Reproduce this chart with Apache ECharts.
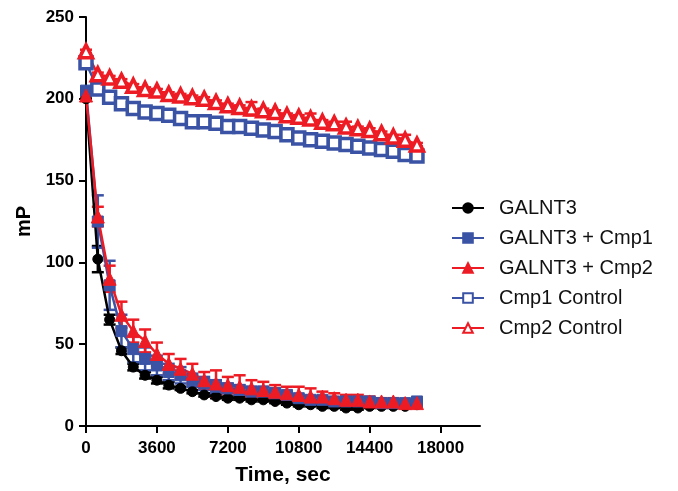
<!DOCTYPE html>
<html>
<head>
<meta charset="utf-8">
<script src="https://cdn.jsdelivr.net/npm/echarts@6/dist/echarts.min.js"></script>
<style>
  html, body { margin: 0; padding: 0; background: #fff; }
  #main { width: 678px; height: 491px; }
</style>
</head>
<body>
<div id="main"></div>
<script>
// time points, sec
var times = [0, 600, 1200, 1800, 2400, 3000, 3600, 4200, 4800, 5400, 6000, 6600, 7200, 7800, 8400,
  9000, 9600, 10200, 10800, 11400, 12000, 12600, 13200, 13800, 14400, 15000, 15600, 16200, 16800];
var xTicks = [0, 3600, 7200, 10800, 14400, 18000];

var galnt3 = [200, 102, 65, 46, 36, 31, 28, 25, 23, 21, 19, 18, 17, 17, 16, 16, 15, 14, 13, 13, 12, 12, 11, 11, 12, 12, 12, 12, 13];
var galnt3Err = [0, 8, 3, 2, 2, 2, 2, 2, 1, 1, 1, 1, 1, 1, 1, 1, 1, 1, 1, 1, 1, 1, 1, 1, 1, 1, 1, 1, 1];

var cmp1 = [205, 125, 86, 58, 47, 41, 37, 33, 31, 28, 26, 24, 23, 22, 21, 21, 20, 19, 17, 16, 16, 15, 15, 15, 15, 14, 14, 14, 15];
var cmp1Err = [0, 16, 15, 10, 8, 7, 6, 5, 5, 4, 4, 4, 3, 3, 3, 3, 3, 2, 2, 2, 2, 2, 2, 2, 2, 2, 2, 2, 1];

var cmp2 = [202, 128, 90, 68, 58, 52, 44, 38, 35, 32, 28, 26, 25, 24, 23, 22, 21, 20, 19, 18, 18, 17, 16, 16, 15, 15, 15, 14, 14];
var cmp2Err = [0, 6, 8, 8, 7, 7, 7, 6, 6, 6, 5, 8, 5, 7, 5, 5, 4, 4, 5, 5, 3, 3, 3, 3, 3, 2, 2, 2, 2];

var cmp1Ctrl = [222, 206, 201, 197, 194, 192, 191, 190, 188, 186, 186, 185, 183, 183, 182, 181, 180, 178, 176, 175, 174, 173, 172, 171, 170, 169, 168, 166, 165];
var cmp1CtrlErr = [1, 1, 1, 1, 1, 1, 1, 1, 1, 1, 1, 1, 1, 1, 1, 1, 1, 1, 1, 1, 1, 1, 1, 1, 1, 1, 1, 1, 1];

var cmp2Ctrl = [229, 215, 213, 211, 208, 206, 205, 203, 202, 201, 200, 198, 196, 195, 194, 193, 192, 190, 189, 188, 186, 185, 183, 182, 181, 179, 177, 175, 172];
var cmp2CtrlErr = [1, 1, 1, 1, 1, 1, 1, 1, 1, 1, 1, 1, 1, 1, 4, 1, 1, 1, 1, 3, 1, 1, 3, 1, 1, 1, 1, 3, 1];

var BLACK = '#000000', BLUE = '#3a53a4', RED = '#ed1c24';
var FONT = 'Liberation Sans, Arial, sans-serif';

function pairs(vals) {
  return times.map(function (t, i) { return [t, vals[i]]; });
}
function triples(vals, errs) {
  return times.map(function (t, i) { return [t, vals[i], errs[i]]; });
}

function errSeries(vals, errs, color) {
  return {
    type: 'custom',
    silent: true,
    data: triples(vals, errs),
    encode: { x: 0, y: 1 },
    renderItem: function (params, api) {
      var x = api.value(0), y = api.value(1), e = api.value(2);
      var hi = api.coord([x, y + e]);
      var lo = api.coord([x, y - e]);
      var w = 6;
      var st = { stroke: color, lineWidth: 2.5 };
      return {
        type: 'group',
        children: [
          { type: 'line', shape: { x1: hi[0], y1: hi[1], x2: lo[0], y2: lo[1] }, style: st },
          { type: 'line', shape: { x1: hi[0] - w, y1: hi[1], x2: hi[0] + w, y2: hi[1] }, style: st },
          { type: 'line', shape: { x1: lo[0] - w, y1: lo[1], x2: lo[0] + w, y2: lo[1] }, style: st }
        ]
      };
    }
  };
}

function lineSeries(name, vals, color, symbol, size, empty) {
  return {
    name: name,
    type: 'line',
    data: pairs(vals),
    symbol: symbol,
    symbolSize: size,
    showAllSymbol: true,
    lineStyle: { color: color, width: 2.5 },
    itemStyle: empty
      ? { color: '#ffffff', borderColor: color, borderWidth: 3.5 }
      : { color: color, borderColor: color, borderWidth: 1 }
  };
}

var chart = echarts.init(document.getElementById('main'));
chart.setOption({
  animation: false,
  backgroundColor: '#ffffff',
  textStyle: { fontFamily: FONT },
  grid: { left: 86, right: 198, top: 17, bottom: 63, containLabel: false },
  legend: {
    orient: 'vertical',
    left: 446,
    top: 193,
    itemWidth: 32,
    itemHeight: 12,
    itemGap: 10,
    data: ['GALNT3', 'GALNT3 + Cmp1', 'GALNT3 + Cmp2', 'Cmp1 Control', 'Cmp2 Control'],
    textStyle: { fontFamily: FONT, fontSize: 20, color: '#111', lineHeight: 20, padding: [0, 0, 0, 10] }
  },
  xAxis: {
    type: 'value',
    min: 0,
    max: 20000,
    name: 'Time, sec',
    nameLocation: 'middle',
    nameGap: 39,
    nameTextStyle: { fontFamily: FONT, fontSize: 21, fontWeight: 'bold', color: '#000' },
    axisLine: { show: true, onZero: false, lineStyle: { color: '#000', width: 2 } },
    axisTick: { show: true, length: 7, lineStyle: { color: '#000', width: 2 }, customValues: xTicks },
    axisLabel: {
      fontFamily: FONT, fontSize: 17, fontWeight: 'bold', color: '#000', margin: 14,
      customValues: xTicks,
      formatter: function (v) { return String(v); }
    },
    splitLine: { show: false }
  },
  yAxis: {
    type: 'value',
    min: 0,
    max: 250,
    interval: 50,
    name: 'mP',
    nameLocation: 'middle',
    nameGap: 52,
    nameTextStyle: { fontFamily: FONT, fontSize: 20, fontWeight: 'bold', color: '#000' },
    axisLine: { show: true, lineStyle: { color: '#000', width: 2 } },
    axisTick: { show: true, length: 7, lineStyle: { color: '#000', width: 2 } },
    axisLabel: { fontFamily: FONT, fontSize: 17, fontWeight: 'bold', color: '#000', margin: 12 },
    splitLine: { show: false }
  },
  series: [
    errSeries(galnt3, galnt3Err, BLACK),
    lineSeries('GALNT3', galnt3, BLACK, 'circle', 10, false),
    errSeries(cmp1, cmp1Err, BLUE),
    lineSeries('GALNT3 + Cmp1', cmp1, BLUE, 'rect', 11, false),
    errSeries(cmp2, cmp2Err, RED),
    lineSeries('GALNT3 + Cmp2', cmp2, RED, 'triangle', 13, false),
    errSeries(cmp1Ctrl, cmp1CtrlErr, BLUE),
    lineSeries('Cmp1 Control', cmp1Ctrl, BLUE, 'rect', 12, true),
    errSeries(cmp2Ctrl, cmp2CtrlErr, RED),
    lineSeries('Cmp2 Control', cmp2Ctrl, RED, 'triangle', 13, true)
  ]
});
</script>
</body>
</html>
